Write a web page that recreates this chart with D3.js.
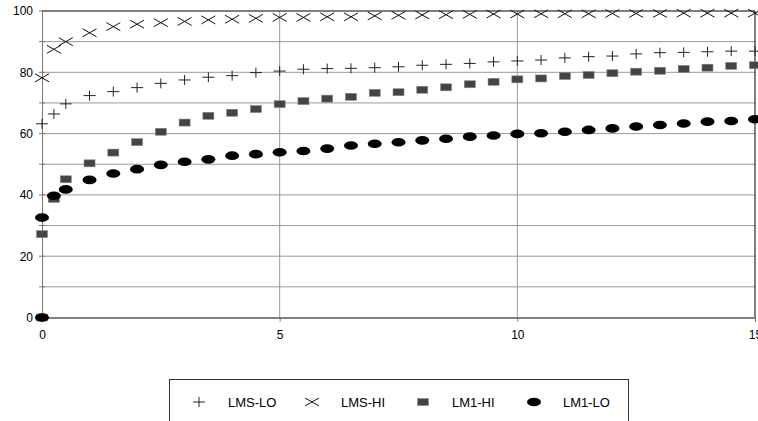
<!DOCTYPE html>
<html>
<head>
<meta charset="utf-8">
<script src="https://cdn.jsdelivr.net/npm/d3@7"></script>
<style>
  body { margin: 0; background: #fff; }
  svg { display: block; font-family: "Liberation Sans", Arial, sans-serif; }
</style>
</head>
<body>
<div id="chart"></div>
<script>
// x positions shared by all series (first point only carries the LM1 zero values)
const xValues = [0, 0, 0.25, 0.5, 1, 1.5, 2, 2.5, 3, 3.5, 4, 4.5, 5, 5.5, 6, 6.5, 7,
  7.5, 8, 8.5, 9, 9.5, 10, 10.5, 11, 11.5, 12, 12.5, 13, 13.5, 14, 14.5, 15];

const lmsLo = [null, 63.2, 66.4, 69.7, 72.4, 73.7, 75.0, 76.4, 77.5, 78.4, 78.9, 79.9, 80.4,
  81.0, 81.2, 81.3, 81.5, 81.8, 82.3, 82.6, 82.9, 83.4, 83.7, 84.0, 84.7, 85.1, 85.3,
  86.0, 86.4, 86.5, 86.7, 86.9, 86.9];
const lmsHi = [null, 78.2, 87.5, 90.0, 92.9, 94.9, 95.7, 96.2, 96.6, 97.1, 97.3, 97.6, 97.9,
  97.9, 98.1, 98.1, 98.4, 98.6, 98.7, 98.8, 98.9, 99.0, 99.0, 99.1, 99.1, 99.1, 99.2,
  99.2, 99.2, 99.3, 99.3, 99.3, 99.3];
const lm1Hi = [0, 27.2, 38.7, 45.1, 50.3, 53.8, 57.2, 60.6, 63.6, 65.8, 66.8, 68.0, 69.6,
  70.6, 71.4, 72.0, 73.3, 73.5, 74.3, 75.1, 76.1, 76.9, 77.7, 78.0, 78.8, 79.1, 79.7,
  80.2, 80.5, 81.1, 81.5, 82.1, 82.3];
const lm1Lo = [0, 32.6, 39.7, 41.8, 44.9, 47.0, 48.4, 49.8, 50.8, 51.6, 52.8, 53.3, 53.9,
  54.3, 55.1, 56.1, 56.7, 57.2, 57.8, 58.3, 59.0, 59.4, 59.9, 60.1, 60.6, 61.2, 61.7,
  62.3, 62.8, 63.3, 63.9, 64.1, 64.7];

const seriesNames = ["LMS-LO", "LMS-HI", "LM1-HI", "LM1-LO"];
const xTicks = [0, 5, 10, 15];
const yLabelTicks = [0, 20, 40, 60, 80, 100];
const yGridTicks = [10, 20, 30, 40, 50, 60, 70, 80, 90];

const width = 758, height = 421;
const svg = d3.select("#chart").append("svg")
  .attr("width", width).attr("height", height);

const x = d3.scaleLinear().domain([0, 15]).range([42, 755]);
const y = d3.scaleLinear().domain([0, 100]).range([317.5, 11]);

// grid
svg.append("g").selectAll("line").data(yGridTicks).join("line")
  .attr("x1", x(0)).attr("x2", x(15))
  .attr("y1", d => y(d)).attr("y2", d => y(d))
  .attr("stroke", "#999").attr("stroke-width", 1);
svg.append("g").selectAll("line").data([5, 10]).join("line")
  .attr("x1", d => x(d)).attr("x2", d => x(d))
  .attr("y1", y(0)).attr("y2", y(100))
  .attr("stroke", "#999").attr("stroke-width", 1);

// frame: top / right black
svg.append("line").attr("x1", x(0)).attr("x2", x(15)).attr("y1", y(100)).attr("y2", y(100))
  .attr("stroke", "#000");
svg.append("line").attr("x1", x(15)).attr("x2", x(15)).attr("y1", y(100)).attr("y2", y(0))
  .attr("stroke", "#000");

// y axis
const yAxis = svg.append("g")
  .attr("transform", `translate(${x(0)},0)`)
  .call(d3.axisLeft(y).tickValues(yLabelTicks).tickSize(0).tickPadding(9));
yAxis.select(".domain").attr("stroke", "#777");
yAxis.selectAll("text").style("font-size", "12px").attr("fill", "#000");
svg.append("g").selectAll("line").data(d3.range(0, 101, 10)).join("line")
  .attr("x1", x(0) - 3).attr("x2", x(0) + 3)
  .attr("y1", d => y(d)).attr("y2", d => y(d))
  .attr("stroke", "#777");

// x axis
const xAxis = svg.append("g")
  .attr("transform", `translate(0,${y(0)})`)
  .call(d3.axisBottom(x).tickValues(xTicks).tickSize(4).tickPadding(9).tickFormat(d3.format("d")));
xAxis.select(".domain").attr("stroke", "#000");
xAxis.selectAll("line").attr("stroke", "#777");
xAxis.selectAll("text").style("font-size", "12px").attr("fill", "#000");

// markers
const markers = {
  "LMS-LO": g => g.append("path").attr("d", "M-6,0H6M0,-5V5").attr("stroke", "#222").attr("fill", "none"),
  "LMS-HI": g => g.append("path").attr("d", "M-7,-4L7,4M-7,4L7,-4").attr("stroke", "#111").attr("fill", "none"),
  "LM1-HI": g => g.append("rect").attr("x", -5.5).attr("y", -3.5).attr("width", 11).attr("height", 7)
    .attr("fill", "#444").attr("stroke", "#888").attr("stroke-width", 0.6),
  "LM1-LO": g => g.append("ellipse").attr("rx", 7).attr("ry", 4.3).attr("fill", "#000"),
};

const allSeries = [lmsLo, lmsHi, lm1Hi, lm1Lo];
const drawOrder = [2, 3, 0, 1];
drawOrder.forEach(si => {
  const vals = allSeries[si];
  const name = seriesNames[si];
  const pts = xValues.map((xv, i) => ({ x: xv, y: vals[i] })).filter(d => d.y != null);
  pts.forEach(d => {
    const g = svg.append("g").attr("transform", `translate(${x(d.x)},${y(d.y)})`);
    markers[name](g);
  });
});

// legend
const leg = svg.append("g");
leg.append("rect").attr("x", 169.5).attr("y", 379.5).attr("width", 459).attr("height", 60)
  .attr("fill", "#fff").attr("stroke", "#333");
const legX = [199, 312, 423, 534];
seriesNames.forEach((name, i) => {
  const g = leg.append("g").attr("transform", `translate(${legX[i]},402)`);
  markers[name](g);
  leg.append("text").attr("x", legX[i] + 29).attr("y", 402).attr("dy", "0.35em")
    .style("font-size", "13px").text(name);
});
</script>
</body>
</html>
